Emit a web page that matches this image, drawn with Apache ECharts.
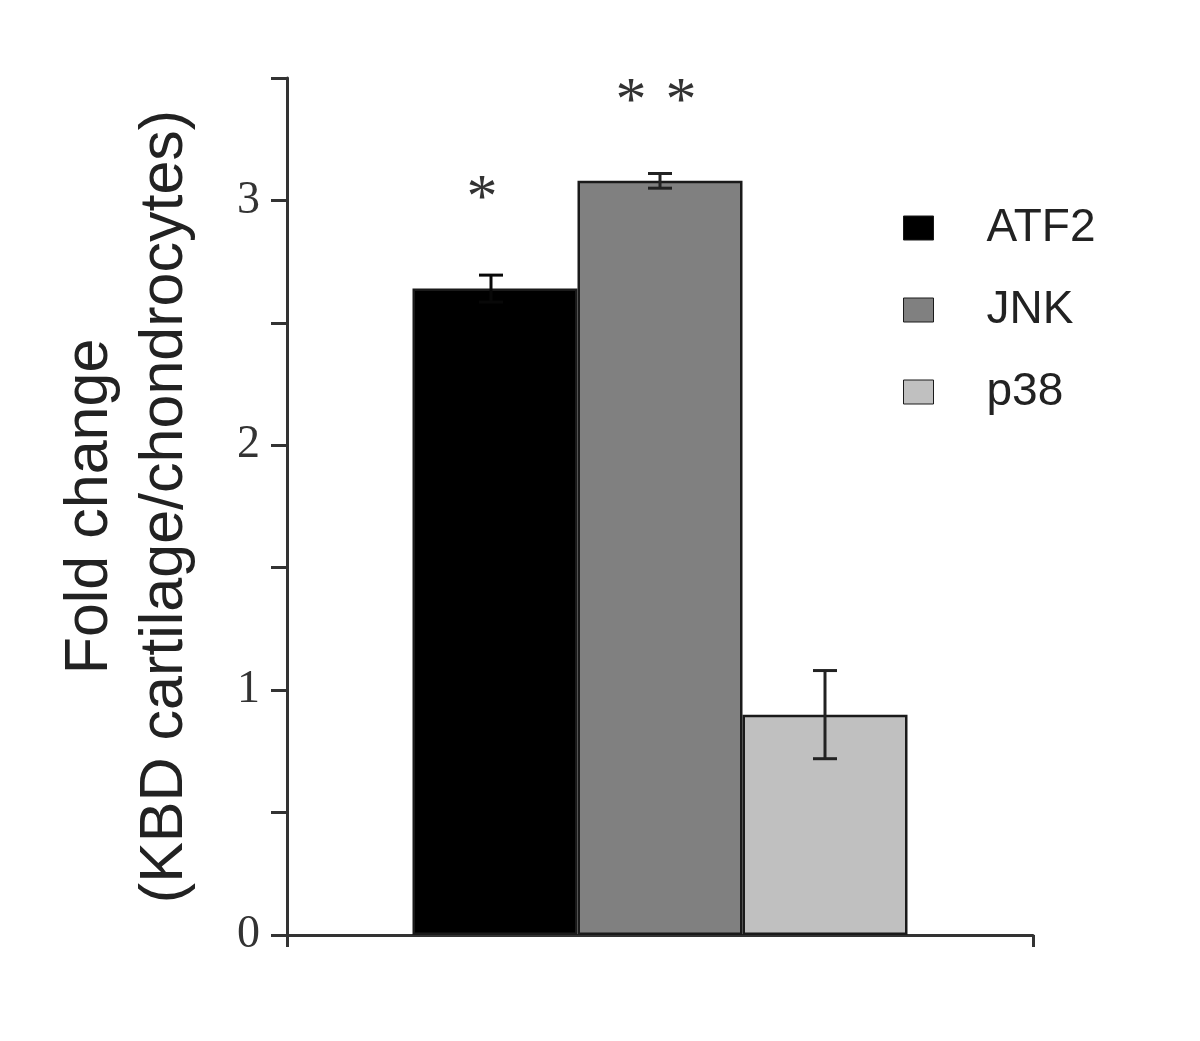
<!DOCTYPE html>
<html>
<head>
<meta charset="utf-8">
<script src="https://cdn.jsdelivr.net/npm/echarts@6/dist/echarts.min.js"></script>
<style>html,body{margin:0;padding:0;background:#fff;}#c{width:1200px;height:1041px;}</style>
</head>
<body>
<div id="c"></div>
<script>
const categories = [''];
const seriesNames = ['ATF2', 'JNK', 'p38'];
const means = [2.64, 3.08, 0.90];
const errors = [0.055, 0.03, 0.18];
const significance = ['*', '* *', ''];
const yTicks = [0, 0.5, 1, 1.5, 2, 2.5, 3, 3.5];

const colors = ['#000000', '#808080', '#c0c0c0'];
const BAR_W = 165;
const SANS = '"Liberation Sans", Arial, sans-serif';
const SERIF = '"Liberation Serif", "Times New Roman", serif';

const chart = echarts.init(document.getElementById('c'), null, {renderer: 'canvas'});

const barSeries = seriesNames.map((name, i) => ({
  name: name,
  type: 'bar',
  barWidth: BAR_W,
  barGap: '0%',
  data: [means[i]],
  itemStyle: {color: colors[i], borderColor: '#1a1a1a', borderWidth: 2.5},
  label: {
    show: significance[i] !== '',
    position: 'top',
    distance: i === 0 ? 58 : 47,
    offset: i === 0 ? [-13, 0] : [-4, 0],
    formatter: () => significance[i].split(' ').map(s => '{s|' + s + '}').join('{g|}'),
    rich: {
      s: {fontFamily: SERIF, fontSize: 62, color: '#333'},
      g: {width: 19}
    }
  },
  z: 2
}));

const errData = seriesNames.map((n, i) => [0, means[i], errors[i], i]);

const option = {
  animation: false,
  backgroundColor: '#fff',
  grid: {left: 287, right: 167, top: 78, bottom: 106},
  legend: {
    orient: 'vertical',
    left: 898,
    top: 200,
    data: seriesNames,
    icon: 'rect',
    itemWidth: 30,
    itemHeight: 24,
    itemGap: 36,
    itemStyle: {borderWidth: 1},
    textStyle: {fontFamily: SANS, fontSize: 46, color: '#222', lineHeight: 40, padding: [0, 0, 0, 48]}
  },
  xAxis: {
    type: 'category',
    data: categories,
    boundaryGap: true,
    axisLine: {lineStyle: {color: '#333', width: 3}},
    axisTick: {show: true, length: 12, lineStyle: {color: '#333', width: 3}},
    axisLabel: {show: false},
    splitLine: {show: false}
  },
  yAxis: {
    type: 'value',
    min: 0,
    max: 3.5,
    interval: 0.5,
    name: 'Fold change\n(KBD cartilage/chondrocytes)',
    nameLocation: 'middle',
    nameRotate: 90,
    nameGap: 84,
    nameTextStyle: {fontFamily: SANS, fontSize: 61, lineHeight: 75, color: '#222'},
    axisLine: {show: true, lineStyle: {color: '#333', width: 3}},
    axisTick: {show: true, length: 16, lineStyle: {color: '#333', width: 3}},
    axisLabel: {
      margin: 27,
      fontFamily: SERIF,
      fontSize: 46,
      color: '#333',
      formatter: v => (yTicks.includes(v) && v % 1 === 0) ? String(v) : ''
    },
    splitLine: {show: false}
  },
  series: barSeries.concat([{
    type: 'custom',
    name: 'err',
    data: errData,
    encode: {x: 0, y: 1},
    z: 10,
    renderItem: function (params, api) {
      const mean = api.value(1), err = api.value(2), idx = api.value(3);
      const c = api.coord([0, mean]);
      const x = c[0] + (idx - 1) * BAR_W - (idx === 0 ? 4 : 0);
      const yt = api.coord([0, mean + err])[1];
      const yb = api.coord([0, mean - err])[1];
      const hw = 12;
      const st = {stroke: idx === 0 ? '#080808' : '#222', lineWidth: 3};
      return {
        type: 'group',
        children: [
          {type: 'line', shape: {x1: x, y1: yt, x2: x, y2: yb}, style: st},
          {type: 'line', shape: {x1: x - hw, y1: yt, x2: x + hw, y2: yt}, style: st},
          {type: 'line', shape: {x1: x - hw, y1: yb, x2: x + hw, y2: yb}, style: st}
        ]
      };
    }
  }])
};

chart.setOption(option);
</script>
</body>
</html>
